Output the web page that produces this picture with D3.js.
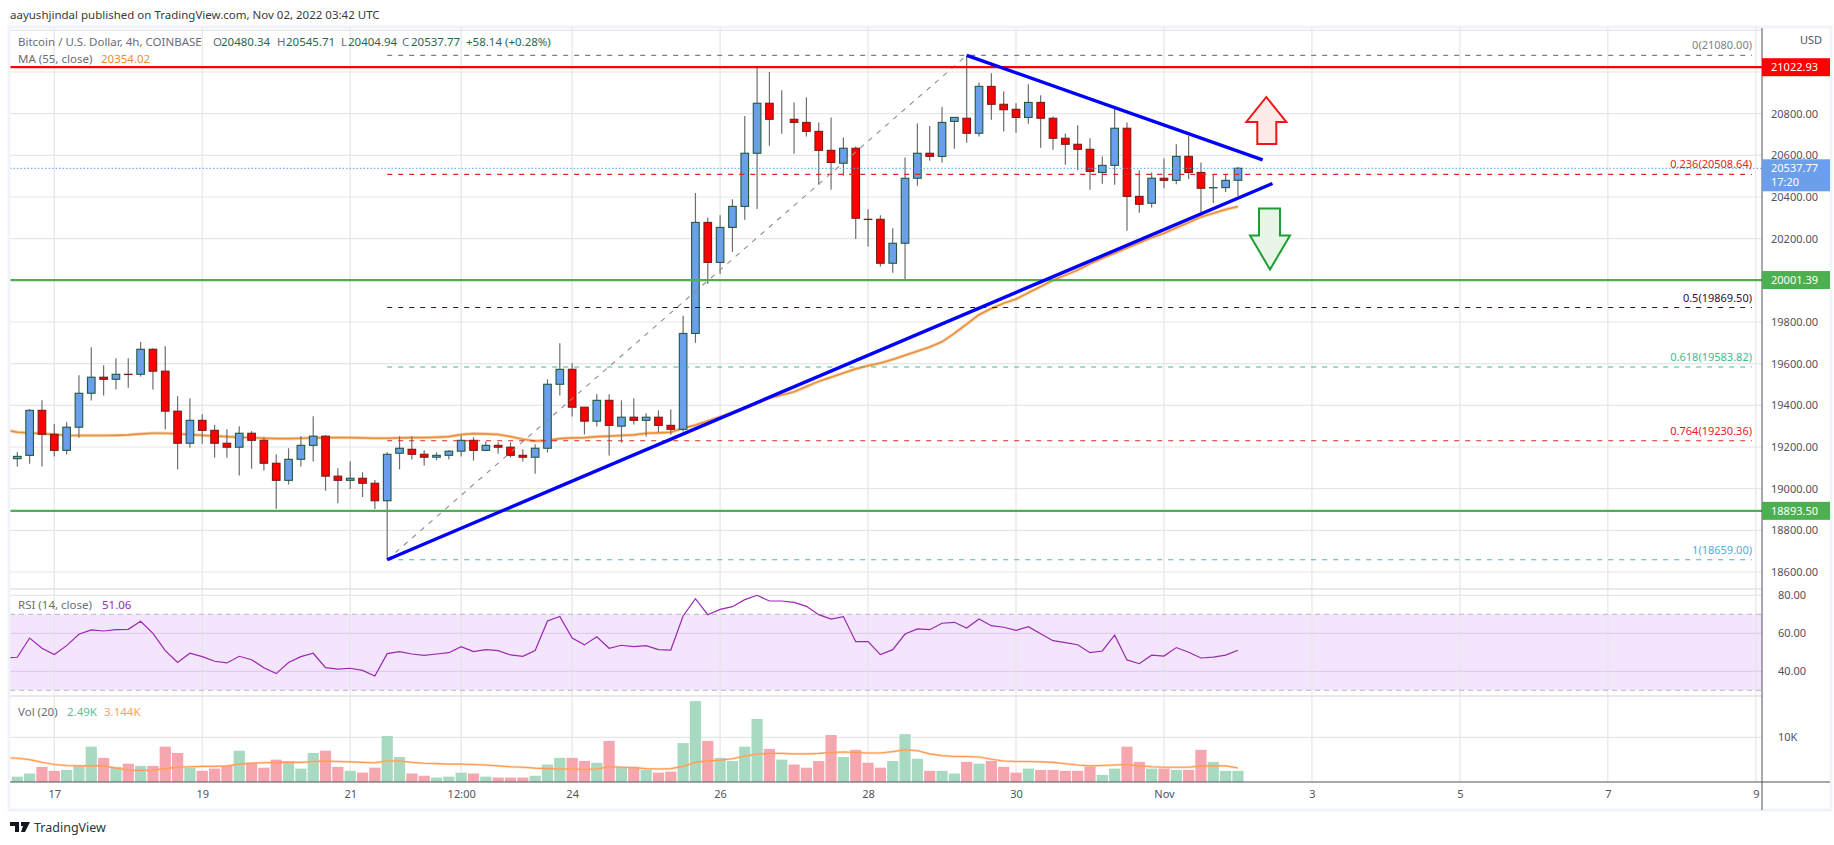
<!DOCTYPE html>
<html>
<head>
<meta charset="utf-8">
<script src="https://d3js.org/d3.v7.min.js"></script>
<style>
  body { margin: 0; background: #fff; }
  text { font-family: "Noto Sans", sans-serif; }
</style>
</head>
<body>
<div id="chart"></div>
<script>
// candles, 4h bars, Oct 16 to Nov 2
const opens = [19144,19160,19376,19261,19184,19295,19458,19535,19525,19549,
  19549,19669,19564,19372,19218,19328,19280,19218,19199,19266,
  19232,19122,19040,19141,19208,19252,19060,19040,19050,19026,
  18942,19170,19189,19165,19151,19160,19180,19232,19184,19208,
  19199,19160,19151,19194,19501,19573,19391,19324,19424,19300,
  19343,19328,19343,19304,19285,19745,20278,20086,20254,20355,
  20610,20850,20773,20773,20758,20715,20624,20562,20634,20293,
  20293,20082,20178,20490,20610,20595,20763,20778,20706,20931,
  20845,20821,20782,20854,20778,20682,20653,20629,20518,20552,
  20730,20403,20370,20490,20480,20595,20518,20444,20445,20480.34];
const closes = [19155,19376,19261,19184,19295,19458,19535,19525,19549,19548,
  19669,19564,19372,19218,19328,19280,19218,19199,19266,19232,
  19122,19040,19141,19208,19252,19060,19040,19050,19026,18942,
  19165,19194,19165,19151,19160,19180,19232,19184,19208,19199,
  19160,19151,19194,19501,19573,19391,19324,19424,19304,19343,
  19328,19343,19304,19285,19745,20278,20086,20254,20355,20610,
  20850,20773,20773,20758,20715,20624,20566,20634,20298,20292,
  20082,20178,20490,20610,20595,20758,20782,20706,20931,20845,
  20819,20782,20854,20778,20682,20653,20629,20523,20552,20730,
  20403,20365,20490,20480,20595,20518,20442,20445,20480,20537.77];
const highs = [19176,19381,19424,19311,19319,19544,19679,19592,19626,19626,
  19704,19674,19684,19444,19434,19357,19306,19285,19300,19276,
  19247,19165,19194,19252,19348,19256,19098,19132,19079,19042,
  19175,19252,19252,19184,19175,19184,19256,19247,19228,19223,
  19223,19189,19213,19525,19698,19602,19391,19453,19453,19424,
  19434,19362,19376,19380,19830,20419,20302,20312,20389,20789,
  21019,21000,20912,20854,20878,20758,20782,20686,20643,20341,
  20312,20250,20590,20753,20741,20832,20782,21080,20950,20994,
  20907,20850,20941,20888,20787,20705,20744,20682,20595,20826,
  20758,20528,20518,20585,20653,20693,20566,20509,20509,20545.71];
const lows = [19106,19120,19106,19154,19164,19245,19423,19447,19476,19485,
  19538,19476,19284,19092,19197,19216,19149,19149,19063,19096,
  19087,18902,19020,19106,19130,18990,18930,18999,18960,18902,
  18659,19092,19140,19111,19136,19140,19154,19135,19180,19168,
  19149,19130,19072,19173,19447,19346,19260,19298,19159,19221,
  19308,19250,19271,19260,19275,19700,19982,20030,20137,20291,
  20342,20646,20704,20608,20690,20459,20435,20502,20198,20162,
  20066,20037,20005,20454,20574,20565,20632,20661,20690,20771,
  20714,20709,20752,20637,20627,20555,20528,20435,20464,20459,
  20238,20325,20350,20442,20461,20486,20326,20371,20424,20404.94];

// these three start one bar before the first candle, the lines run off the left edge
const maValues = [19282,19271,19268,19264,19260,19256,19255,19255,19255,19256,19258,
  19263,19266,19266,19263,19260,19256,19253,19250,19247,19245,
  19242,19240,19240,19242,19244,19245,19245,19245,19244,19242,
  19242,19244,19245,19245,19247,19250,19260,19264,19263,19260,
  19250,19237,19229,19232,19240,19244,19245,19250,19252,19255,
  19258,19266,19268,19271,19290,19305,19325,19345,19365,19385,
  19410,19435,19450,19465,19490,19515,19535,19555,19575,19590,
  19603,19620,19640,19660,19680,19705,19745,19790,19835,19865,
  19890,19910,19940,19970,20000,20025,20050,20080,20106,20130,
  20155,20180,20205,20226,20252,20278,20304,20322,20340,20354.02];
const rsiValues = [47,47.4,57.5,52.1,48.8,53.5,59.5,61.8,61.2,61.9,62.1,
  66.3,60,50.9,44.7,49.5,47.7,45.3,44.4,47.9,46.1,
  41.9,38.8,44.6,47.7,49.5,41.9,41.1,41.6,40.5,37.5,
  49.3,50.4,49.1,48.4,49.1,49.8,53,50.4,51.4,50.9,
  48.6,47.9,50.9,66.5,68.9,57.5,53.9,58.2,52.1,53.7,
  53,53.5,51.4,51.2,69.1,78.2,69.8,72.6,74,77.7,
  80,77,77,76.3,74.2,69.8,67.5,68.8,55.6,55.6,
  48.8,51.4,59.6,62.3,61.9,65.3,65.8,62.8,67.5,64,
  63.2,61.6,63.5,59.8,56.1,55.1,54,49.8,50.7,59,
  46,44,48.5,48,52.5,50,47,47.5,48.5,51.06];
const volMaValues = [5.4,5.3,5.0,4.4,3.9,3.7,3.6,3.6,3.6,3.1,2.7,
  2.6,2.7,3.0,3.3,3.4,3.5,3.5,3.6,4.0,4.2,
  4.3,4.4,4.4,4.4,4.6,4.7,4.6,4.5,4.4,4.3,
  4.7,4.7,4.4,4.2,4.1,4.0,4.0,3.9,3.8,3.6,
  3.4,3.3,3.1,3.0,2.9,2.9,2.8,2.9,3.4,3.3,
  3.2,3.0,2.9,3.0,3.5,4.4,4.7,4.9,5.2,5.8,
  6.2,6.4,6.4,6.3,6.3,6.4,6.6,6.7,6.6,6.5,
  6.5,6.8,7.2,7.0,6.3,5.9,5.7,5.7,5.6,5.1,
  4.7,4.6,4.6,4.5,4.4,4.1,3.8,3.6,3.7,3.8,
  3.9,3.6,3.4,3.3,3.3,3.3,3.6,3.6,3.6,3.144];
const volumes = [1.2,1.9,3.4,2.5,2.7,3.6,7.9,5.4,3.4,4.1,
  3.6,3.6,7.9,6.5,3.2,2.5,3.0,3.6,7.0,4.3,
  3.2,5.0,4.7,3.0,6.5,7.0,3.4,2.5,2.1,3.2,
  10.3,5.6,1.9,1.4,1.0,1.2,2.1,1.9,1.2,1.0,
  1.0,1.0,1.4,3.9,5.4,5.4,4.7,4.3,9.2,3.4,
  3.4,2.7,2.1,2.3,8.7,18.1,9.2,5.4,4.7,7.9,
  14.1,7.4,5.0,3.9,3.2,4.7,10.5,5.6,7.2,4.3,
  3.2,4.7,10.7,5.2,2.5,2.5,1.9,4.5,4.1,4.7,
  3.4,2.1,3.0,2.7,2.7,2.5,2.5,3.4,1.6,3.0,
  7.9,4.5,3.0,3.0,2.7,2.7,7.2,4.5,2.5,2.49];

const priceTicks = [20800,20600,20400,20200,19800,19600,19400,19200,19000,18800,18600];
const gridPrices = [21200,21000,20800,20600,20400,20200,20000,19800,19600,19400,19200,19000,18800,18600];
const rsiTicks = [80,60,40];
const volTicks = [10];
const timeTicks = [3,15,27,36,45,57,69,81,93,105,117,129,141];
const timeLabels = ["17","19","21","12:00","24","26","28","30","Nov","3","5","7","9"];

const fibLevels = ["0","0.236","0.5","0.618","0.764","1"];
const fibPrices = [21080,20508.64,19869.50,19583.82,19230.36,18659];
const fibColors = ["#808080","#e02424","#3a0c2e","#3dbb90","#e02424","#4aaee0"];

const upFill = "#6b9fec", upLine = "#215a3f";
const downFill = "#ff0000", downLine = "#7d1a1a";
const upVol = "#a8dac2", downVol = "#f6a6ae";

const width = 1834, height = 845;
const left = 10, right = 1762, outerRight = 1830;
const mainTop = 28, mainBottom = 589, rsiBottom = 696, volBottom = 782, axisBottom = 810;

let svg = d3.select("#chart").append("svg")
  .attr("width", width).attr("height", height)
  .style("display", "block");

let x = d3.scaleLinear().domain([0, 141]).range([17.3, 1755.8]);
let y = d3.scaleLinear().domain([18600, 21000]).range([572, 72]);
let yRsi = d3.scaleLinear().domain([30, 70]).range([690.3, 614.3]);
let yVol = d3.scaleLinear().domain([0, 10]).range([volBottom, 737.3]);

svg.append("clipPath").attr("id", "main").append("rect")
  .attr("x", left).attr("y", mainTop).attr("width", right - left).attr("height", mainBottom - mainTop);
svg.append("clipPath").attr("id", "all").append("rect")
  .attr("x", left).attr("y", mainTop).attr("width", right - left).attr("height", volBottom - mainTop);

// rsi band goes under the grid
svg.append("rect")
  .attr("x", left).attr("width", right - left)
  .attr("y", yRsi(70)).attr("height", yRsi(30) - yRsi(70))
  .attr("fill", "#f3e5fc");

const gridColor = "#e6e6e6";
let grid = svg.append("g").attr("stroke", gridColor).attr("stroke-width", 1.2);
grid.selectAll(".v").data(timeTicks).enter().append("line")
  .attr("x1", d => x(d)).attr("x2", d => x(d))
  .attr("y1", mainTop).attr("y2", volBottom);
grid.selectAll(".h").data(gridPrices).enter().append("line")
  .attr("x1", left).attr("x2", right)
  .attr("y1", d => y(d)).attr("y2", d => y(d));
grid.selectAll(".r").data(rsiTicks).enter().append("line")
  .attr("x1", left).attr("x2", right)
  .attr("y1", d => yRsi(d)).attr("y2", d => yRsi(d))
  .attr("stroke", d => d == 80 ? gridColor : "#e0cfea");
grid.selectAll(".vt").data(volTicks).enter().append("line")
  .attr("x1", left).attr("x2", right)
  .attr("y1", d => yVol(d)).attr("y2", d => yVol(d));

// pane separators
svg.selectAll(".sep").data([mainBottom, rsiBottom]).enter().append("line")
  .attr("x1", left).attr("x2", right)
  .attr("y1", d => d).attr("y2", d => d)
  .attr("stroke", "#e0e3eb").attr("stroke-width", 1.5);

// rsi guides and line
svg.selectAll(".guide").data([70, 30]).enter().append("line")
  .attr("x1", left).attr("x2", right)
  .attr("y1", d => yRsi(d)).attr("y2", d => yRsi(d))
  .attr("stroke", "#b9b6c4").attr("stroke-width", 1).attr("stroke-dasharray", "5 4");

let lineFrom = function(scale) {
  return d3.line().x((d, i) => x(i - 1)).y(d => scale(d));
};

svg.append("path").datum(rsiValues)
  .attr("clip-path", "url(#all)")
  .attr("d", lineFrom(yRsi))
  .attr("fill", "none").attr("stroke", "#9c27b0").attr("stroke-width", 1.2);

// volume
svg.selectAll(".vol").data(volumes).enter().append("rect")
  .attr("x", (d, i) => x(i) - 5.6)
  .attr("width", 11.2)
  .attr("y", d => yVol(d))
  .attr("height", d => yVol(0) - yVol(d))
  .attr("fill", (d, i) => closes[i] >= opens[i] ? upVol : downVol);

svg.append("path").datum(volMaValues)
  .attr("clip-path", "url(#all)")
  .attr("d", lineFrom(yVol))
  .attr("fill", "none").attr("stroke", "#ffb27a").attr("stroke-width", 2.4).attr("stroke-opacity", 0.5);
svg.append("path").datum(volMaValues)
  .attr("clip-path", "url(#all)")
  .attr("d", lineFrom(yVol))
  .attr("fill", "none").attr("stroke", "#ff9a50").attr("stroke-width", 1.1);

// moving average sits behind the candles
svg.append("path").datum(maValues)
  .attr("clip-path", "url(#main)")
  .attr("d", lineFrom(y))
  .attr("fill", "none").attr("stroke", "#f2b27a").attr("stroke-width", 3.4).attr("stroke-opacity", 0.55);
svg.append("path").datum(maValues)
  .attr("clip-path", "url(#main)")
  .attr("d", lineFrom(y))
  .attr("fill", "none").attr("stroke", "#e8913a").attr("stroke-width", 1.6);

// candles
let candles = svg.append("g").selectAll("g").data(opens).enter().append("g");
candles.append("line")
  .attr("x1", (d, i) => x(i)).attr("x2", (d, i) => x(i))
  .attr("y1", (d, i) => y(highs[i])).attr("y2", (d, i) => y(lows[i]))
  .attr("stroke", "#6e6e6e").attr("stroke-width", 1.2);
candles.append("rect")
  .attr("x", (d, i) => x(i) - 3.8)
  .attr("width", 7.6)
  .attr("y", (d, i) => y(Math.max(opens[i], closes[i])))
  .attr("height", (d, i) => Math.abs(y(opens[i]) - y(closes[i])))
  .attr("fill", (d, i) => closes[i] >= opens[i] ? upFill : downFill)
  .attr("stroke", (d, i) => closes[i] >= opens[i] ? upLine : downLine)
  .attr("stroke-width", 1.1);

// last price dotted line
svg.append("line")
  .attr("x1", left).attr("x2", right)
  .attr("y1", y(closes[99])).attr("y2", y(closes[99]))
  .attr("stroke", "#5f9cf0").attr("stroke-width", 1).attr("stroke-dasharray", "1.5 2");

// fib retracement
svg.selectAll(".fib").data(fibPrices).enter().append("line")
  .attr("x1", x(30)).attr("x2", 1752)
  .attr("y1", d => y(d)).attr("y2", d => y(d))
  .attr("stroke", (d, i) => fibColors[i])
  .attr("stroke-width", 1.1).attr("stroke-dasharray", "5 6");
svg.selectAll(".fibl").data(fibPrices).enter().append("text")
  .attr("x", 1752).attr("y", d => y(d) - 6)
  .attr("text-anchor", "end").attr("font-size", 11)
  .attr("fill", (d, i) => fibColors[i])
  .text((d, i) => fibLevels[i] + "(" + d.toFixed(2) + ")");
svg.append("line")
  .attr("x1", x(30)).attr("y1", y(18659))
  .attr("x2", x(77)).attr("y2", y(21080))
  .attr("stroke", "#8e8e8e").attr("stroke-width", 1.1).attr("stroke-dasharray", "5 6");

// support / resistance levels
const levelPrices = [21022.93, 20001.39, 18893.50];
const levelColors = ["#ff0000", "#4caf50", "#4caf50"];
svg.selectAll(".lvl").data(levelPrices).enter().append("line")
  .attr("x1", left).attr("x2", right)
  .attr("y1", d => y(d)).attr("y2", d => y(d))
  .attr("stroke", (d, i) => levelColors[i]).attr("stroke-width", 2.2);

// trend lines
const trendIdx = [[30, 101.8], [77, 101]];
const trendPrice = [[18659, 20465], [21080, 20578]];
svg.selectAll(".trend").data(trendIdx).enter().append("line")
  .attr("x1", d => x(d[0])).attr("x2", d => x(d[1]))
  .attr("y1", (d, i) => y(trendPrice[i][0])).attr("y2", (d, i) => y(trendPrice[i][1]))
  .attr("stroke", "#0000ff").attr("stroke-width", 3.4);

// arrows
let arrowUp = d3.line()([[0,0],[20,25],[10,25],[10,47],[-9,47],[-9,25],[-20,25]]) + "Z";
let arrowDown = d3.line()([[-11,0],[10,0],[10,27],[20,27],[0,61],[-20,27],[-11,27]]) + "Z";
svg.append("path").attr("d", arrowUp)
  .attr("transform", `translate(${x(101.3)}, ${y(20880)})`)
  .attr("fill", "#ffeaea").attr("stroke", "#f01414").attr("stroke-width", 2);
svg.append("path").attr("d", arrowDown)
  .attr("transform", `translate(${x(101.6)}, ${y(20345)})`)
  .attr("fill", "#e8f6e8").attr("stroke", "#1e9e32").attr("stroke-width", 2);

// frame
svg.append("rect")
  .attr("x", 9).attr("y", 27).attr("width", outerRight - 9 + 1).attr("height", axisBottom - 27)
  .attr("fill", "none").attr("stroke", "#f0f3fa").attr("stroke-width", 3);
svg.append("line").attr("x1", left).attr("x2", outerRight).attr("y1", volBottom).attr("y2", volBottom)
  .attr("stroke", "#50535e").attr("stroke-width", 1);
svg.append("line").attr("x1", right).attr("x2", right).attr("y1", mainTop).attr("y2", axisBottom)
  .attr("stroke", "#50535e").attr("stroke-width", 1);

// axes
let styleAxis = function(g) {
  g.select(".domain").remove();
  g.selectAll("text").attr("font-size", 11).attr("fill", "#50535e")
    .style("font-family", '"Noto Sans", sans-serif');
};
svg.append("g").attr("transform", `translate(${right}, 0)`)
  .call(d3.axisRight(y).tickValues(priceTicks).tickSize(0).tickPadding(9).tickFormat(d3.format(".2f")))
  .call(styleAxis);
svg.append("g").attr("transform", `translate(${right}, 0)`)
  .call(d3.axisRight(yRsi).tickValues(rsiTicks).tickSize(0).tickPadding(16).tickFormat(d3.format(".2f")))
  .call(styleAxis);
svg.append("g").attr("transform", `translate(${right}, 0)`)
  .call(d3.axisRight(yVol).tickValues(volTicks).tickSize(0).tickPadding(16).tickFormat(d => d + "K"))
  .call(styleAxis);
svg.append("g").attr("transform", `translate(0, ${volBottom})`)
  .call(d3.axisBottom(x).tickValues(timeTicks).tickSize(0).tickPadding(8).tickFormat((d, i) => timeLabels[i]))
  .call(styleAxis);
svg.append("text").attr("x", 1800).attr("y", 44).attr("font-size", 11).attr("fill", "#50535e").text("USD");

// price tags on the axis
const tagPrices = [21022.93, 20001.39, 18893.50];
const tagColors = ["#ff0000", "#4caf50", "#4caf50"];
svg.selectAll(".tag").data(tagPrices).enter().append("rect")
  .attr("x", right).attr("width", outerRight - right)
  .attr("y", d => y(d) - 9).attr("height", 18)
  .attr("fill", (d, i) => tagColors[i]);
svg.selectAll(".tagt").data(tagPrices).enter().append("text")
  .attr("x", right + 9).attr("y", d => y(d) + 4)
  .attr("font-size", 11).attr("fill", "#fff")
  .text(d => d.toFixed(2));
svg.append("rect")
  .attr("x", right).attr("width", outerRight - right)
  .attr("y", y(closes[99]) - 9).attr("height", 32)
  .attr("fill", upFill);
svg.append("text").attr("x", right + 9).attr("y", y(closes[99]) + 4)
  .attr("font-size", 11).attr("fill", "#fff").text(closes[99].toFixed(2));
svg.append("text").attr("x", right + 9).attr("y", y(closes[99]) + 18)
  .attr("font-size", 11).attr("fill", "#fff").text("17:20");

// legends
let legend = function(xs, yPos, parts, colors) {
  svg.selectAll(null).data(parts).enter().append("text")
    .attr("x", (d, i) => xs[i]).attr("y", yPos)
    .attr("font-size", 11.5)
    .attr("fill", (d, i) => colors[i])
    .text(d => d);
};
const valueGreen = "#1f6b4f", labelGrey = "#6a6d78";
legend([18, 213, 221, 277, 286, 341, 348, 402, 411, 466], 46,
  ["Bitcoin / U.S. Dollar, 4h, COINBASE", "O", "20480.34", "H", "20545.71", "L", "20404.94", "C", "20537.77", "+58.14 (+0.28%)"],
  [labelGrey, labelGrey, valueGreen, labelGrey, valueGreen, labelGrey, valueGreen, labelGrey, valueGreen, valueGreen]);
legend([18, 101], 63, ["MA (55, close)", "20354.02"], [labelGrey, "#f08c2e"]);
legend([18, 102], 609, ["RSI (14, close)", "51.06"], [labelGrey, "#9c27b0"]);
legend([18, 67, 104], 716, ["Vol (20)", "2.49K", "3.144K"], [labelGrey, "#5cbf94", "#ffa05c"]);

svg.append("text").attr("x", 10).attr("y", 19).attr("font-size", 11.5).attr("fill", "#3a3a3a")
  .text("aayushjindal published on TradingView.com, Nov 02, 2022 03:42 UTC");

// logo
svg.append("path")
  .attr("d", "M10 822H19V832H15V826H10ZM21 822H30L25 832H21L23 826H21Z")
  .attr("fill", "#131722");
svg.append("text").attr("x", 34).attr("y", 832).attr("font-size", 12.5).attr("fill", "#333")
  .text("TradingView");
</script>
</body>
</html>
